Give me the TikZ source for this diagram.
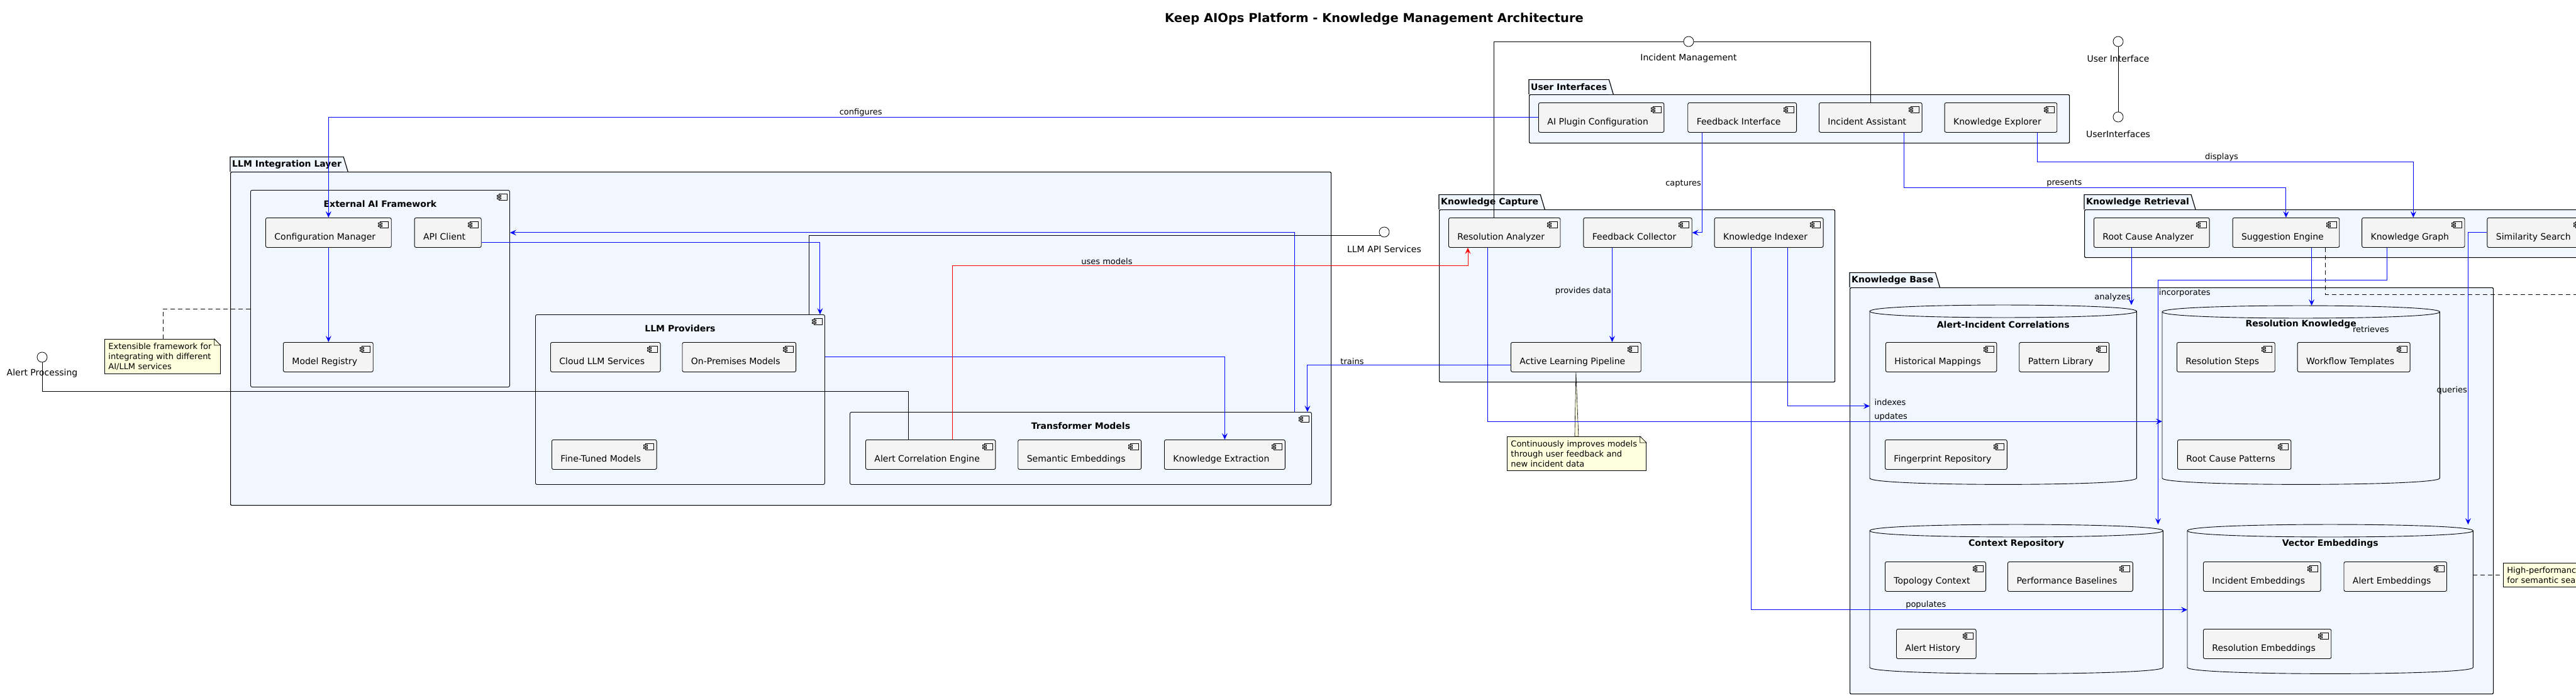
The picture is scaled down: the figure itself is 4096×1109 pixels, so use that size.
\documentclass[tikz,border=0pt]{standalone}
\usepackage{fontspec}
\setmainfont{DejaVu Sans}
\usetikzlibrary{positioning,arrows.meta}

\definecolor{pkgfill}{HTML}{F0F7FF}
\definecolor{compfill}{HTML}{F4F4F4}
\definecolor{notefill}{HTML}{FEFFDD}
\definecolor{linkblue}{HTML}{0000FF}
\definecolor{linkred}{HTML}{FF0000}

\newcommand{\compfont}{\fontsize{14}{17}\selectfont}
\newcommand{\lblfont}{\fontsize{13}{16}\selectfont}
\newcommand{\headfont}{\fontsize{14}{17}\selectfont\bfseries}
\newcommand{\bigtitlefont}{\fontsize{19.5}{23}\selectfont\bfseries}

\tikzstyle{every node}=[inner sep=1pt]
\tikzstyle{comp}=[draw, line width=0.9pt, fill=compfill, rounded corners=2.5pt, minimum height=47pt, inner xsep=14pt, inner ysep=3pt, text height=23pt, text depth=0pt, font=\compfont, anchor=north west, execute at end node={\hspace{11pt}}]
\tikzstyle{cont}=[draw, line width=0.9pt, fill=pkgfill, rounded corners=2.5pt, anchor=north west]
\tikzstyle{conttitle}=[font=\headfont]
\tikzstyle{pkg}=[draw, line width=1.2pt, fill=pkgfill, rounded corners=1.5pt, anchor=north west]
\tikzstyle{pkgtitle}=[font=\headfont, fill=pkgfill, inner xsep=3pt, inner ysep=0pt, minimum height=23pt, anchor=south west]
\tikzstyle{dbbox}=[inner sep=0pt, anchor=north west]
\tikzstyle{dbtitle}=[font=\headfont]
\tikzstyle{iface}=[circle, draw, line width=0.8pt, fill=white, minimum size=16pt, inner sep=0pt]
\tikzstyle{ifacelbl}=[font=\compfont]
\tikzstyle{notebox}=[draw, line width=0.8pt, fill=notefill, font=\lblfont, align=left, anchor=north west, inner xsep=6pt, inner ysep=6pt]
\tikzstyle{lbl}=[font=\lblfont, text=black, inner sep=1pt]
\tikzstyle{bluelink}=[linkblue, line width=1pt, -{Stealth[length=10pt,width=9pt,inset=4pt]}]
\tikzstyle{redlink}=[linkred, line width=1pt, -{Stealth[length=10pt,width=9pt,inset=4pt]}]
\tikzstyle{solidlink}=[black, line width=0.9pt]
\tikzstyle{notelink}=[black, line width=0.9pt, dash pattern=on 7pt off 5pt]

% small component glyph in the top right corner
\newcommand{\compicon}[1]{%
  \draw[line width=0.8pt, fill=compfill] ([xshift=-18pt,yshift=-6pt]#1.north east) rectangle ([xshift=-5pt,yshift=-16pt]#1.north east);
  \draw[line width=0.8pt, fill=compfill] ([xshift=-21pt,yshift=-8pt]#1.north east) rectangle ([xshift=-15pt,yshift=-10.5pt]#1.north east);
  \draw[line width=0.8pt, fill=compfill] ([xshift=-21pt,yshift=-12pt]#1.north east) rectangle ([xshift=-15pt,yshift=-14.5pt]#1.north east);
}
% package tab round the title node
\newcommand{\pkgtab}[1]{%
  \fill[pkgfill] (#1.north east) -- ([xshift=7pt]#1.south east) -- (#1.south east) -- cycle;
  \draw[line width=1.2pt] (#1.south west) -- (#1.north west) -- (#1.north east) -- ([xshift=7pt]#1.south east);
}
% database cylinder on a box node
\newcommand{\dbshape}[1]{%
  \draw[line width=0.9pt, fill=pkgfill] ([yshift=-10pt]#1.north west) -- ([yshift=10pt]#1.south west)
    .. controls ([yshift=-3.3pt]#1.south west) and ([yshift=-3.3pt]#1.south east) .. ([yshift=10pt]#1.south east)
    -- ([yshift=-10pt]#1.north east)
    .. controls ([yshift=3.3pt]#1.north east) and ([yshift=3.3pt]#1.north west) .. cycle;
  \draw[line width=0.9pt] ([yshift=-10pt]#1.north west)
    .. controls ([yshift=-23.3pt]#1.north west) and ([yshift=-23.3pt]#1.north east) .. ([yshift=-10pt]#1.north east);
}
% folded corner of a note
\newcommand{\notefold}[1]{%
  \fill[white] ([xshift=-10pt,yshift=1pt]#1.north east) -- ([xshift=1pt,yshift=1pt]#1.north east) -- ([xshift=1pt,yshift=-10pt]#1.north east) -- cycle;
  \draw[line width=0.8pt, fill=notefill] ([xshift=-10pt]#1.north east) -- ([yshift=-10pt]#1.north east) -- ([xshift=-10pt,yshift=-10pt]#1.north east) -- cycle;
}

\begin{document}
\begin{tikzpicture}[x=1pt, y=-1pt]
  \useasboundingbox (0,0) rectangle (4096,1109);

  \node[font=\bigtitlefont] (title) at (2185,30) {Keep AIOps Platform - Knowledge Management Architecture};

  % packages
  \node[pkg, minimum width=1750pt, minimum height=530pt] (llmlayer) at (366,273) {};
  \node[pkgtitle] (llmlayerhead) at (llmlayer.north west) {LLM Integration Layer};
  \pkgtab{llmlayerhead}
  \node[pkg, minimum width=859pt, minimum height=77pt] (uilayer) at (2431,150) {};
  \node[pkgtitle] (uilayerhead) at (uilayer.north west) {User Interfaces};
  \pkgtab{uilayerhead}
  \node[pkg, minimum width=629pt, minimum height=274pt] (kcapture) at (2288,333) {};
  \node[pkgtitle] (kcapturehead) at (kcapture.north west) {Knowledge Capture};
  \pkgtab{kcapturehead}
  \node[pkg, minimum width=836pt, minimum height=76pt] (kretrieval) at (3314,333) {};
  \node[pkgtitle] (kretrievalhead) at (kretrieval.north west) {Knowledge Retrieval};
  \pkgtab{kretrievalhead}
  \node[pkg, minimum width=1023pt, minimum height=646pt] (kbase) at (2941,457) {};
  \node[pkgtitle] (kbasehead) at (kbase.north west) {Knowledge Base};
  \pkgtab{kbasehead}

  % nested components
  \node[cont, minimum width=412pt, minimum height=313pt] (extai) at (398,302) {};
  \node[conttitle] (extaihead) at ([yshift=-22pt]extai.north) {External AI Framework};
  \node[cont, minimum width=460pt, minimum height=270pt] (llmprov) at (851,500) {};
  \node[conttitle] (llmprovhead) at ([yshift=-22pt]llmprov.north) {LLM Providers};
  \node[cont, minimum width=734pt, minimum height=115pt] (transf) at (1351,655) {};
  \node[conttitle] (transfhead) at ([yshift=-22pt]transf.north) {Transformer Models};

  % databases
  \node[dbbox, minimum width=424pt, minimum height=285pt] (acdb) at (2973,485) {};
  \dbshape{acdb}
  \node[dbtitle] (acdbhead) at ([yshift=-31pt]acdb.north) {Alert-Incident Correlations};
  \node[dbbox, minimum width=441pt, minimum height=284pt] (resknow) at (3438,486) {};
  \dbshape{resknow}
  \node[dbtitle] (resknowhead) at ([yshift=-30pt]resknow.north) {Resolution Knowledge};
  \node[dbbox, minimum width=466pt, minimum height=237pt] (ctxdb) at (2973,834) {};
  \dbshape{ctxdb}
  \node[dbtitle] (ctxdbhead) at ([yshift=-31pt]ctxdb.north) {Context Repository};
  \node[dbbox, minimum width=454pt, minimum height=237pt] (vecdb) at (3478,834) {};
  \dbshape{vecdb}
  \node[dbtitle] (vecdbhead) at ([yshift=-31pt]vecdb.north) {Vector Embeddings};

  % components
  \node[comp] (cfgmgr) at (422,346) {Configuration Manager};
  \node[comp, right=36pt of cfgmgr] (apiclient) {API Client};
  \node[comp] (modelreg) at (450,544) {Model Registry};
  \node[comp] (cloudllm) at (875,544) {Cloud LLM Services};
  \node[comp, right=34pt of cloudllm] (onprem) {On-Premises Models};
  \node[comp] (finetuned) at (877,699) {Fine-Tuned Models};
  \node[comp] (alertcorr) at (1376,699) {Alert Correlation Engine};
  \node[comp, right=35pt of alertcorr] (sememb) {Semantic Embeddings};
  \node[comp, right=36pt of sememb] (knowext) {Knowledge Extraction};

  \node[comp] (aiplugin) at (2446,163) {AI Plugin Configuration};
  \node[comp, right=37pt of aiplugin] (fbiface) {Feedback Interface};
  \node[comp, right=35pt of fbiface] (incassist) {Incident Assistant};
  \node[comp, right=35pt of incassist] (knowexpl) {Knowledge Explorer};

  \node[comp] (resanalyzer) at (2303,346) {Resolution Analyzer};
  \node[comp, right=36pt of resanalyzer] (fbcollector) {Feedback Collector};
  \node[comp, right=35pt of fbcollector] (knowindexer) {Knowledge Indexer};
  \node[comp] (alpipeline) at (2402,544) {Active Learning Pipeline};

  \node[comp] (rcanalyzer) at (3329,346) {Root Cause Analyzer};
  \node[comp, right=36pt of rcanalyzer] (suggengine) {Suggestion Engine};
  \node[comp, right=35pt of suggengine] (knowgraph) {Knowledge Graph};
  \node[comp, right=35pt of knowgraph] (simsearch) {Similarity Search};

  \node[comp] (histmap) at (2998,544) {Historical Mappings};
  \node[comp, right=35pt of histmap] (patternlib) {Pattern Library};
  \node[comp] (fingerprint) at (2997,699) {Fingerprint Repository};
  \node[comp] (ressteps) at (3461,544) {Resolution Steps};
  \node[comp, right=35pt of ressteps] (wftemplates) {Workflow Templates};
  \node[comp] (rcpatterns) at (3462,699) {Root Cause Patterns};
  \node[comp] (topology) at (2997,893) {Topology Context};
  \node[comp, right=34pt of topology] (perfbase) {Performance Baselines};
  \node[comp] (alerthist) at (3015,1000) {Alert History};
  \node[comp] (incemb) at (3503,893) {Incident Embeddings};
  \node[comp, right=36pt of incemb] (alertemb) {Alert Embeddings};
  \node[comp] (resemb) at (3503,1000) {Resolution Embeddings};

  \foreach \c in {extai,llmprov,transf,cfgmgr,apiclient,modelreg,cloudllm,onprem,finetuned,alertcorr,sememb,knowext,aiplugin,fbiface,incassist,knowexpl,resanalyzer,fbcollector,knowindexer,alpipeline,rcanalyzer,suggengine,knowgraph,simsearch,histmap,patternlib,fingerprint,ressteps,wftemplates,rcpatterns,topology,perfbase,alerthist,incemb,alertemb,resemb}
    {\compicon{\c}}

  % interfaces
  \node[iface] (incmgmt) at (2685,66) {};
  \node[ifacelbl] (incmgmtlbl) at ([yshift=-27pt]incmgmt.center) {Incident Management};
  \node[iface] (uiface) at (3368,66) {};
  \node[ifacelbl] (uifacelbl) at ([yshift=-27pt]uiface.center) {User Interface};
  \node[iface] (uifaces) at (3368,186) {};
  \node[ifacelbl] (uifaceslbl) at ([yshift=-27pt]uifaces.center) {UserInterfaces};
  \node[iface] (llmapi) at (2201,369) {};
  \node[ifacelbl] (llmapilbl) at ([yshift=-27pt]llmapi.center) {LLM API Services};
  \node[iface] (alertproc) at (67,568) {};
  \node[ifacelbl] (alertproclbl) at ([yshift=-26pt]alertproc.center) {Alert Processing};

  % notes
  \node[notebox, text width=172pt] (note1) at (166,539) {Extensible framework for\\integrating with different\\AI/LLM services};
  \notefold{note1}
  \node[notebox, text width=209pt] (note2) at (2396,694) {Continuously improves models\\through user feedback and\\new incident data};
  \notefold{note2}
  \node[notebox, text width=208pt] (note3) at (3980,895) {High-performance\\for semantic search};
  \filldraw[fill=notefill, line width=0.6pt] (alpipeline.south) -- ([xshift=-3pt]note2.north) -- ([xshift=3pt]note2.north) -- cycle;
  \draw[notelink] ([xshift=93pt]note1.north west) |- ([yshift=-32pt]extai.west);
  \draw[notelink] (vecdb.east |- note3.west) -- (note3.west);
  \coordinate (offnote) at (4200,468);
  \draw[notelink] ([xshift=148pt]suggengine.south west) |- (offnote);

  % interface links
  \draw[solidlink] (incmgmt.west) -| ([xshift=72pt]resanalyzer.north west);
  \draw[solidlink] (incmgmt.east) -| (incassist.north);
  \draw[solidlink] (uiface) -- (uifaces);
  \draw[solidlink] ([xshift=-25pt]llmprov.north east) |- (llmapi.south west);
  \draw[solidlink] (alertproc.south) |- ([xshift=68pt,yshift=77pt]alertcorr.north west) -- ([xshift=68pt]alertcorr.north west);

  % llm layer links
  \draw[bluelink] (aiplugin.west) -| node[lbl, above, pos=0.28] (lblconfigures) {configures} (cfgmgr.north);
  \draw[bluelink] (cfgmgr.south) -- (cfgmgr.south |- modelreg.north);
  \draw[bluelink] ([yshift=8pt]apiclient.south east) -| ([xshift=-8pt]llmprov.north east);
  \draw[bluelink] ([xshift=-27pt]transf.north east) |- (extai.east |- apiclient.east);
  \draw[bluelink] (llmprov.east |- onprem.east) -| (knowext.north);
  \draw[redlink] ([xshift=138pt]alertcorr.north west) -- ++(0,-277) -| node[lbl, above, pos=0.15] (lblusesmodels) {uses models} ([xshift=31pt]resanalyzer.south west);
  \draw[bluelink] ([yshift=11pt]alpipeline.south west) -| node[lbl, above, pos=0.39] (lbltrains) {trains} ([xshift=-7pt]transf.north east);

  % capture links
  \draw[bluelink] ([xshift=23pt]fbiface.south west) |- node[lbl, left, pos=0.257] (lblcaptures) {captures} (fbcollector.east);
  \draw[bluelink] ([xshift=46pt]fbcollector.south west) -- ([xshift=46pt]fbcollector.south west |- alpipeline.north) node[lbl, left, pos=0.46] (lblprovides) {provides data};
  \draw[bluelink] ([xshift=62pt]resanalyzer.south west) |- node[lbl, anchor=south west, pos=0.786] (lblupdates) {updates} ([yshift=-42pt]resknow.west);
  \draw[bluelink] ([xshift=117pt]knowindexer.south west) |- ([yshift=-18pt]acdb.west) node[lbl, anchor=south west, xshift=6pt] (lblindexes) {indexes};
  \draw[bluelink] ([xshift=59pt]knowindexer.south west) |- node[lbl, anchor=south west, pos=0.676] (lblpopulates) {populates} ([yshift=-17pt]vecdb.west);

  % retrieval links
  \draw[bluelink] ([xshift=135pt]incassist.south west) -- ++(0,88) -| node[lbl, above, pos=0.21] (lblpresents) {presents} (suggengine.north);
  \draw[bluelink] ([xshift=148pt]knowexpl.south west) -- ++(0,47) -| node[lbl, above, pos=0.245] (lbldisplays) {displays} (knowgraph.north);
  \draw[bluelink] ([xshift=60pt]rcanalyzer.south west) -- ([xshift=60pt]rcanalyzer.south west |- acdb.north) node[lbl, left, pos=0.87] (lblanalyzes) {analyzes};
  \draw[bluelink] ([xshift=126pt]suggengine.south west) -- ([xshift=126pt]suggengine.south west |- resknow.north) node[lbl, anchor=west, xshift=64pt, yshift=-38pt] (lblretrieves) {retrieves};
  \draw[bluelink] ([xshift=40pt]knowgraph.south west) -- ++(0,52) -| node[lbl, anchor=west, pos=0.526] (lblincorporates) {incorporates} ([xshift=-8pt]ctxdb.north east);
  \draw[bluelink] (simsearch.west) -| node[lbl, anchor=east, pos=0.77] (lblqueries) {queries} ([xshift=-8pt]vecdb.north east);
\end{tikzpicture}
\end{document}
